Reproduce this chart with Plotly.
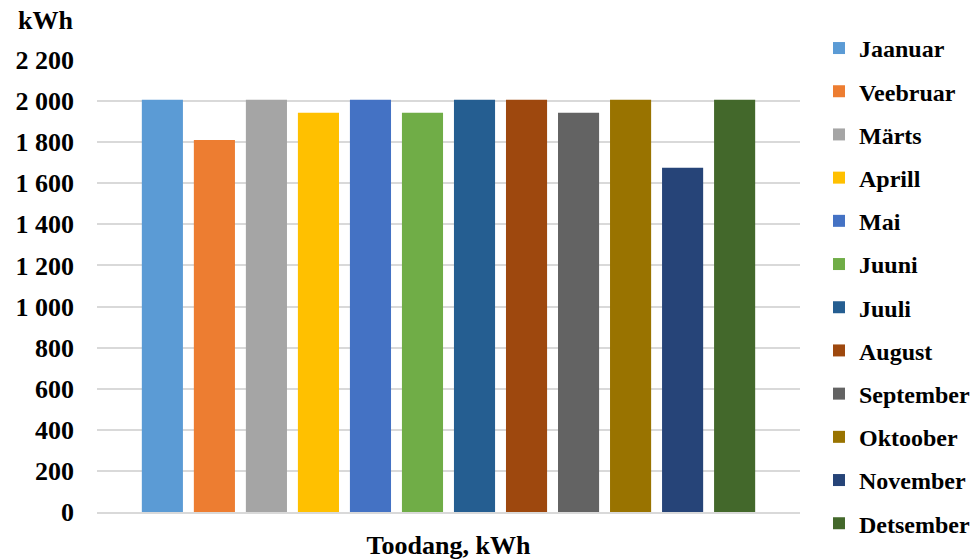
import plotly.graph_objects as go

category = ["Toodang, kWh"]
months = ["Jaanuar", "Veebruar", "Märts", "Aprill", "Mai", "Juuni",
          "Juuli", "August", "September", "Oktoober", "November", "Detsember"]
values = [2006, 1811, 2006, 1943, 2006, 1943, 2006, 2006, 1943, 2006, 1675, 2006]
colors = ["#5B9BD5", "#ED7D31", "#A5A5A5", "#FFC000", "#4472C4", "#70AD47",
          "#255E91", "#9E480E", "#636363", "#997300", "#264478", "#43682B"]
y_ticks = list(range(0, 2201, 200))

FONT = "Liberation Serif"

fig = go.Figure()
for name, val, col in zip(months, values, colors):
    fig.add_trace(go.Bar(
        x=category, y=[val], name=name, marker_color=col,
        marker_line_width=0, legendgroup=name,
    ))

fig.update_layout(
    width=978, height=559,
    margin=dict(l=97, r=178, t=60, b=47),
    paper_bgcolor="white", plot_bgcolor="white",
    barmode="group", bargap=0.112, bargroupgap=0.21,
    separators=", ",
    font=dict(family=FONT, size=26, color="black"),
    legend=dict(
        xref="container", yref="container",
        x=0.8374, xanchor="left", y=0.9536, yanchor="top",
        font=dict(family=FONT, size=24, color="black", weight="bold"),
        tracegroupgap=9, traceorder="grouped", maxheight=700,
    ),
    xaxis=dict(
        showgrid=False, showline=True, linecolor="#d9d9d9", linewidth=2,
        tickfont=dict(family=FONT, size=26, weight="bold"),
        ticks="", ticklabelstandoff=9, automargin=False,
    ),
    yaxis=dict(
        range=[0, 2200], tickvals=y_ticks, tickformat=",d",
        showgrid=True, gridcolor="#d9d9d9", gridwidth=1.5,
        zeroline=False, showline=False, ticks="",
        tickfont=dict(family=FONT, size=26, weight="bold"),
        ticklabelstandoff=22, automargin=False,
    ),
    annotations=[dict(
        text="<b>kWh</b>", xref="paper", yref="paper",
        x=(45 - 97) / 703, y=(512 - 20) / 452, xanchor="center", yanchor="middle",
        showarrow=False, font=dict(family=FONT, size=26, color="black"),
    )],
)

fig.write_html("out.html")
